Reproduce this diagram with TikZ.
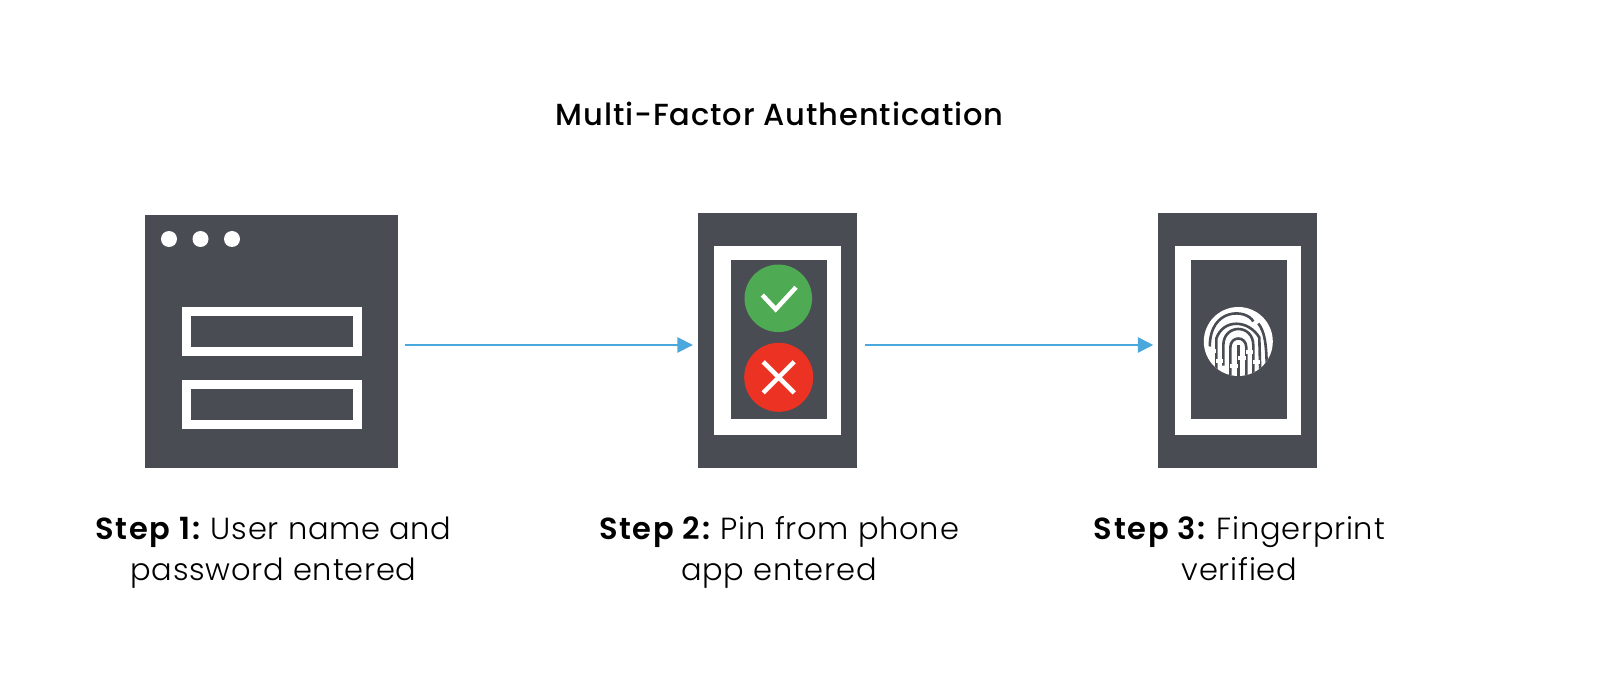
\documentclass[tikz,border=0pt]{standalone}
\usepackage{fontspec}
\setmainfont{Poppins Light}[BoldFont=Poppins SemiBold, LetterSpace=2.5, BoldFeatures={LetterSpace=5.5}]
\newfontfamily\headfont{Poppins Medium}[LetterSpace=3]
\usepackage{tikz}
\usetikzlibrary{arrows.meta, positioning}
\definecolor{slate}{HTML}{4A4C53}
\definecolor{flowblue}{HTML}{4AA8DC}
\definecolor{okgreen}{HTML}{4FAB53}
\definecolor{badred}{HTML}{EC3323}

\begin{document}
\begin{tikzpicture}[
        x=1pt, y=-1pt,
        panel/.style={rectangle, draw=none, fill=slate, inner sep=0pt},
        field/.style={rectangle, draw=white, line width=9.5pt, fill=none, inner sep=0pt, minimum width=171pt, minimum height=40pt},
        frame/.style={rectangle, draw=none, fill=white, inner sep=0pt, minimum width=126.4pt, minimum height=189pt},
        pane/.style={rectangle, draw=none, fill=slate, inner sep=0pt, minimum width=95.7pt, minimum height=159pt},
        dot/.style={circle, draw=none, fill=white, inner sep=0pt, minimum size=16pt},
        badge/.style={circle, draw=none, inner sep=0pt},
        stroke/.style={draw=white, line width=4.5pt},
        ridge/.style={draw=slate, line width=2.6pt},
        bridge/.style={draw=white, line width=4pt},
        caption/.style={align=center, font=\fontsize{30.5}{41}\selectfont, text=black},
        arrow/.style={-{Triangle[length=15.4pt, width=15.4pt]}, line width=1.6pt, color=flowblue}
    ]
        \fill[white] (0,0) rectangle (1600,700);
        \node[font=\headfont\fontsize{30.5}{36}\selectfont, text=black] (title) at (779.5,114) {Multi-Factor Authentication};

        % login window
        \node[panel, minimum width=253pt, minimum height=253pt] (login) at (271.5,341.5) {};
        \node[dot] (dota) at (169,239) {};
        \node[dot] (dotb) at (200.5,239) {};
        \node[dot] (dotc) at (232,239) {};
        \node[field] (user) at (272,331.5) {};
        \node[field] (pass) at (272,404.5) {};

        % pin phone
        \node[panel, minimum width=159pt, minimum height=255pt] (pin) at (777.5,340.5) {};
        \node[frame] (pinframe) at (pin) {};
        \node[pane] (pinpane) at (778.9,339.2) {};
        \node[badge, fill=okgreen, minimum size=67.5pt] (okdot) at (778.3,298.3) {};
        \node[badge, fill=badred, minimum size=69pt] (baddot) at (778.7,377.3) {};
        \draw[stroke] ([shift={(-16,-3.3)}]okdot.center) -- ([shift={(-2.6,11)}]okdot.center) -- ([shift={(17.7,-11)}]okdot.center);
        \draw[stroke] ([shift={(-15.5,-15.5)}]baddot.center) -- ([shift={(15.5,15.5)}]baddot.center);
        \draw[stroke] ([shift={(15.5,-15.5)}]baddot.center) -- ([shift={(-15.5,15.5)}]baddot.center);

        % fingerprint phone
        \node[panel, minimum width=159pt, minimum height=255pt, right=301pt of pin] (scan) {};
        \node[frame] (scanframe) at (scan) {};
        \node[pane] (scanpane) at (1238.9,339.2) {};
        \node[badge, fill=white, minimum size=69pt] (print) at (1238.3,341.5) {};
        \begin{scope}[shift={(print.center)}]
            \clip (0,0) circle (34.5);
            \draw[ridge] (-28.5,5) .. controls (-28.5,-34) and (8,-33) .. (15,-20);
            \draw[ridge] (20,-18) .. controls (26,-10) and (28.5,0) .. (28.5,34);
            \draw[ridge] (-22,34) -- (-22,-3) .. controls (-15,-23) and (10,-22) .. (21,-4) -- (22,34);
            \draw[ridge] (-15,24) -- (-15,4) .. controls (-15,-18) and (15,-18) .. (15,4) -- (15,34);
            \draw[ridge] (-8,34) -- (-8,6) .. controls (-8,-6) and (8,-6) .. (8,6) -- (8,34);
            \draw[ridge] (0,4) -- (0,34);
            \draw[bridge] (-31,9) -- (-22,9);
            \draw[bridge] (-22,19) -- (-15,19);
            \draw[bridge] (-8,24) -- (0,24);
            \draw[bridge] (0,16) -- (8,16);
            \draw[bridge] (8,10) -- (15,10);
            \draw[bridge] (15,20) -- (22,20);
        \end{scope}

        \node[caption, below=45pt of login, xshift=2pt] (stepa) {\textbf{Step 1:}\kern-3pt{} User name and\\password entered};
        \node[caption, below=44.5pt of pin, xshift=1.5pt] (stepb) {\textbf{Step 2:}\kern-3pt{} Pin from phone\\app entered};
        \node[caption, below=44.5pt of scan, xshift=1.5pt] (stepc) {\textbf{Step 3:}\kern-3pt{} Fingerprint\\verified};

        \draw[arrow] ([xshift=7pt, yshift=-3.5pt]login.east) -- ([xshift=-5pt, yshift=-4.5pt]pin.west);
        \draw[arrow] ([xshift=8pt, yshift=-4.5pt]pin.east) -- ([xshift=-5pt, yshift=-4.5pt]scan.west);
    \end{tikzpicture}
\end{document}
